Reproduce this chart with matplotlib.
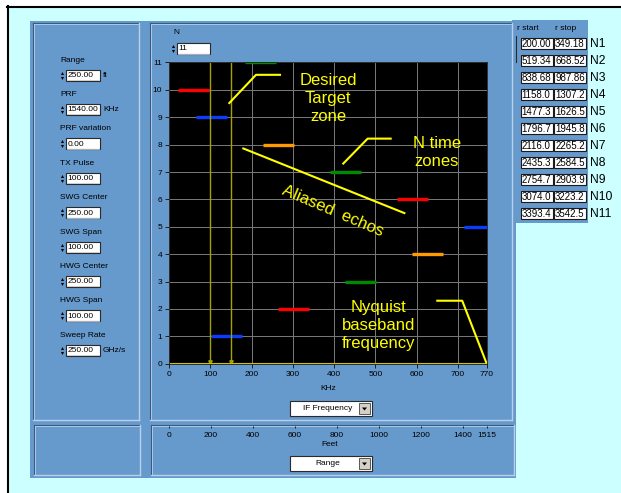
import matplotlib.pyplot as plt
from matplotlib.patches import Rectangle, Polygon

plt.rcParams['font.family'] = ['Liberation Sans', 'DejaVu Sans']

W, H = 621, 493

# zone table: range window of each time zone (ft)
zones = ['N1', 'N2', 'N3', 'N4', 'N5', 'N6', 'N7', 'N8', 'N9', 'N10', 'N11']
r_start = ['200.00', '519.34', '838.68', '1158.0', '1477.3', '1796.7',
           '2116.0', '2435.3', '2754.7', '3074.0', '3393.4']
r_stop = ['349.18', '668.52', '987.86', '1307.2', '1626.5', '1945.8',
          '2265.2', '2584.5', '2903.9', '3223.2', '3542.5']

# IF band of each zone after folding about the Nyquist frequency (KHz)
f_lo = [102, 264, 426, 588, 714, 552, 389, 227, 65, 21, 184]
f_hi = [177, 340, 502, 664, 770, 627, 465, 303, 141, 97, 259]
zone_colors = ['#0a3cff', '#ff0000', '#008a00', '#ff9a00']

khz_ticks = [0, 100, 200, 300, 400, 500, 600, 700, 770]
feet_ticks = [0, 200, 400, 600, 800, 1000, 1200, 1400, 1515]
n_ticks = list(range(12))
cursor_khz = [100, 150]

controls = [('Range', '250.00', 'ft'), ('PRF', '1540.00', 'KHz'),
            ('PRF variation', '0.00', ''), ('TX Pulse', '100.00', ''),
            ('SWG Center', '250.00', ''), ('SWG Span', '100.00', ''),
            ('HWG Center', '250.00', ''), ('HWG Span', '100.00', ''),
            ('Sweep Rate', '250.00', 'GHz/s')]

PANEL = '#6699cc'
DARK = '#3a5a80'
LIGHT = '#b8d0ea'
YEL = '#ffff00'
SMALL = 6

fig = plt.figure(figsize=(W / 100, H / 100), dpi=100)
fig.patch.set_facecolor('white')

# background layer in pixel units (y down)
bg = fig.add_axes([0, 0, 1, 1])
bg.set_xlim(0, W)
bg.set_ylim(H, 0)
bg.axis('off')

bg.add_patch(Rectangle((8, 7), W, H, fc='#ccffff', ec='none'))
bg.plot([7, W], [6.5, 6.5], color='black', lw=1.5)
bg.plot([7.5, 7.5], [6, H], color='black', lw=1.5)

bg.add_patch(Rectangle((30, 21), 486, 457, fc=PANEL, ec='none'))
bg.add_patch(Rectangle((512, 20), 76, 203, fc=PANEL, ec='none'))


def groove(x0, y0, x1, y1):
    bg.plot([x0, x1], [y0, y0], color=DARK, lw=0.8)
    bg.plot([x0, x0], [y0, y1], color=DARK, lw=0.8)
    bg.plot([x0 + 1, x1 - 1], [y0 + 1, y0 + 1], color=LIGHT, lw=0.6)
    bg.plot([x0 + 1, x0 + 1], [y0 + 1, y1 - 1], color=LIGHT, lw=0.6)
    bg.plot([x0, x1], [y1, y1], color=LIGHT, lw=1.0)
    bg.plot([x1, x1], [y0, y1], color=LIGHT, lw=1.0)


groove(33, 23, 139, 420)
groove(150, 23, 512, 420)
groove(34, 425, 140, 475)
groove(151, 425, 514, 475)


def numeric(x, y, value, w=34):
    # spinner arrows then the white entry box
    bg.plot([x - 4], [y - 2.5], marker='^', ms=2.2, color='black', mec='none')
    bg.plot([x - 4], [y + 2.5], marker='v', ms=2.2, color='black', mec='none')
    bg.add_patch(Rectangle((x, y - 5.5), w, 11, fc='white', ec='#2a2a2a', lw=0.8))
    bg.plot([x + 1, x + w - 1], [y + 5, y + 5], color='#c8c8c8', lw=0.6)
    bg.text(x + 1.5, y + 0.5, value, fontsize=SMALL, va='center', ha='left')


for i, (name, value, unit) in enumerate(controls):
    ly = 60 + 34.4 * i
    bg.text(60, ly, name, fontsize=SMALL, va='center', ha='left')
    numeric(66, ly + 15, value)
    if unit:
        bg.text(103, ly + 15.5, unit, fontsize=SMALL, va='center', ha='left')

bg.text(173, 33, 'N', fontsize=SMALL, va='center', ha='left')
numeric(177, 48.5, '11', w=33)


def dropdown(x0, y0, label):
    bg.add_patch(Rectangle((x0, y0), 82, 15, fc='white', ec='#2a2a2a', lw=0.8))
    bg.add_patch(Rectangle((x0 + 69, y0 + 2), 11, 11, fc='#d4d0c8', ec='#404040', lw=0.6))
    bg.add_patch(Polygon([[x0 + 72, y0 + 6.5], [x0 + 77, y0 + 6.5], [x0 + 74.5, y0 + 9.5]],
                         closed=True, fc='black', ec='none'))
    bg.text(x0 + 38, y0 + 7.8, label, fontsize=SMALL, va='center', ha='center')


bg.text(328, 389, 'KHz', fontsize=SMALL, va='center', ha='center')
dropdown(290, 401, 'IF Frequency')
bg.text(330, 445, 'Feet', fontsize=SMALL, va='center', ha='center')
dropdown(290, 456, 'Range')

# zone table on the right
bg.text(517, 28, 'r start', fontsize=SMALL, va='center', ha='left')
bg.text(555, 28, 'r stop', fontsize=SMALL, va='center', ha='left')
bg.plot([516, 516], [36, 62], color='#2a2a2a', lw=0.8)
for i, zone in enumerate(zones):
    top = 38.3 + 17.0 * i
    for cx, val in ((521, r_start[i]), (554.3, r_stop[i])):
        bg.add_patch(Rectangle((cx, top), 31.5, 11, fc='white', ec='#1a1a1a', lw=0.8))
        bg.text(cx + 0.8, top + 6, val, fontsize=7, va='center', ha='left')
    bg.text(590, top + 5.8, zone, fontsize=8.7, va='center', ha='left')

# IF frequency plot
ax = fig.add_axes([169 / W, (H - 363.7) / H, 318 / W, 301.2 / H])
ax.set_facecolor('black')
ax.set_xlim(0, 770)
ax.set_ylim(0, 11)
ax.set_xticks(khz_ticks)
ax.set_yticks(n_ticks)
ax.grid(True, color='#7a7a7a', lw=0.7)
ax.set_axisbelow(True)
ax.tick_params(labelsize=SMALL, length=3, width=0.7, color='#202020', pad=2)
for s in ax.spines.values():
    s.set_color('#202020')
    s.set_linewidth(0.6)

for i in range(len(zones)):
    ax.hlines(i + 1, f_lo[i], f_hi[i], color=zone_colors[i % 4], lw=2.4)

ax.vlines(cursor_khz, 0, 11, color='#a8a000', lw=1)
ax.plot(cursor_khz, [0.08, 0.08], ls='none', marker='v', ms=2.5, color='#a8a000')
ax.axhline(0, color='#d0c400', lw=1.5)

txt = dict(color=YEL, fontsize=12, ha='center', va='center', linespacing=1.25)
ax.text(385, 9.67, 'Desired\nTarget\nzone', **txt)
ax.plot([146, 210.7, 268.8], [9.52, 10.55, 10.55], color=YEL, lw=1.5)

ax.text(649, 7.70, 'N time\nzones', **txt)
ax.plot([422, 481, 536.8], [7.31, 8.22, 8.22], color=YEL, lw=1.5)

ax.plot([180, 570], [7.86, 5.50], color=YEL, lw=1.5)
ax.text(396, 5.58, 'Aliased  echos', rotation=-23, rotation_mode='anchor', **txt)

ax.text(508, 1.40, 'Nyquist\nbaseband\nfrequency', **txt)
ax.plot([649.6, 710, 768], [2.30, 2.30, 0.05], color=YEL, lw=1.5, clip_on=False)

# matching range scale in feet
fx = fig.add_axes([169 / W, (H - 426) / H, 318 / W, 0.0001])
fx.set_xlim(0, 1515)
fx.set_xticks(feet_ticks)
fx.set_yticks([])
fx.patch.set_alpha(0)
for s in fx.spines.values():
    s.set_visible(False)
fx.tick_params(labelsize=SMALL, length=1.5, width=0.7, color='#202020', pad=2.5)

fig.savefig('out.png', dpi=100)
